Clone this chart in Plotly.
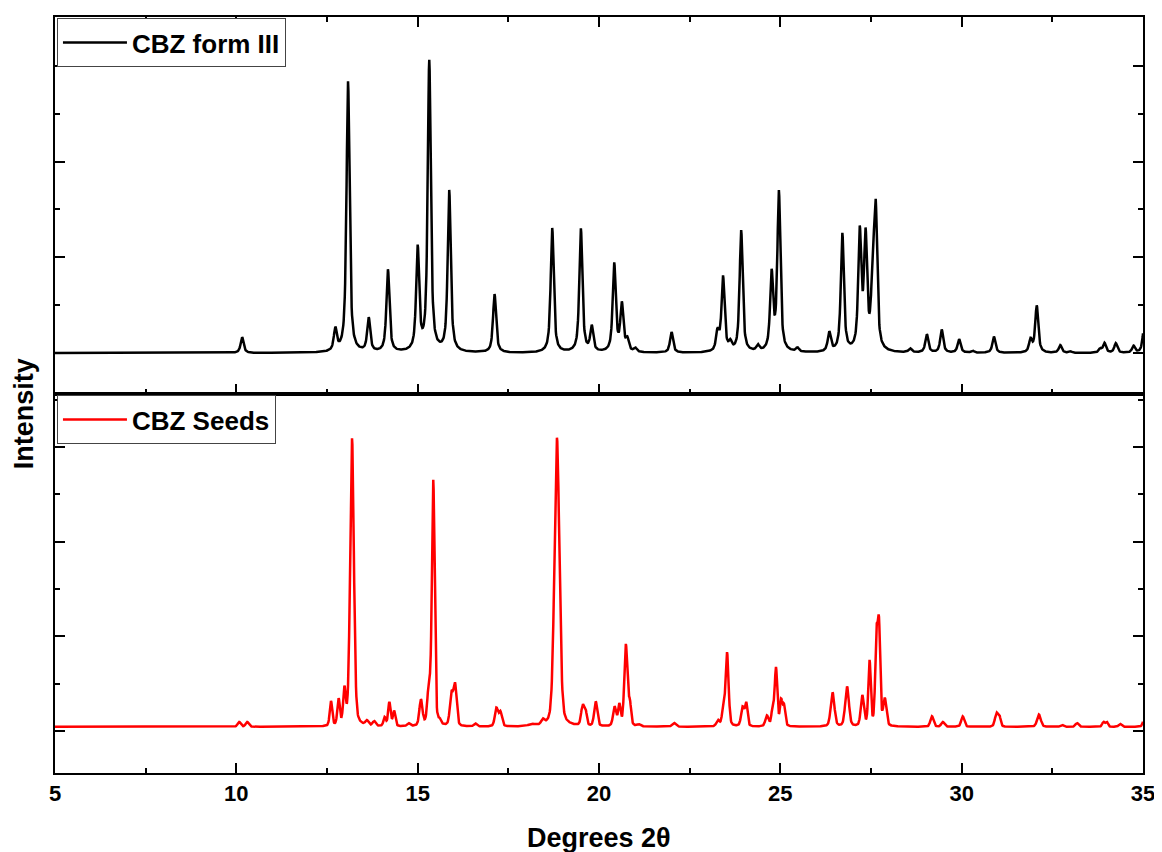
import numpy as np
import plotly.graph_objects as go

# ---------------- data ----------------
two_theta_range = [5, 35]
x_tick_values = [5, 10, 15, 20, 25, 30, 35]

# CBZ form III (calculated pattern): peak positions (deg 2θ) and intensities (a.u.)
form3_pos = [10.16, 12.73, 13.08, 13.65, 14.18, 15.00, 15.32, 15.87, 17.12,
             18.71, 19.50, 19.80, 20.42, 20.63, 20.78, 21.00, 22.00, 23.27,
             23.42, 23.62, 23.92, 24.38, 24.76, 24.96, 25.47, 26.35, 26.71,
             27.19, 27.35, 27.55, 27.63, 28.58, 29.04, 29.45, 29.93, 30.30,
             30.89, 31.90, 32.07, 32.72, 33.00, 33.82, 33.94, 34.25, 34.74,
             35.04]
form3_int = [165, 230, 2830, 350, 860, 1070, 3030, 1680, 610,
             1300, 1290, 260, 920, 490, 120, 40, 215, 200,
             780, 80, 1270, 60, 800, 1660, 40, 200, 1230,
             1220, 1160, 700, 1390, 40, 190, 240, 140, 20,
             170, 130, 490, 80, 15, 40, 100, 100, 70,
             330]
form3_fwhm = 0.10

# CBZ Seeds (measured pattern): peak positions, intensities and widths
seeds_pos = [10.08, 10.30, 12.61, 12.82, 12.98, 13.19, 13.60, 13.80, 14.09,
             14.22, 14.35, 14.75, 15.09, 15.31, 15.43, 15.61, 15.93, 16.03,
             16.59, 17.17, 17.28, 18.15, 18.45, 18.84, 19.55, 19.63, 19.91,
             20.43, 20.56, 20.74, 20.85, 21.10, 22.07, 23.28, 23.42, 23.53,
             23.96, 24.06, 24.63, 24.79, 24.88, 25.02, 25.10, 26.44, 26.84,
             27.26, 27.46, 27.65, 27.72, 27.88, 29.18, 29.48, 30.03, 30.96,
             31.04, 32.13, 32.77, 33.18, 33.91, 34.00, 34.37, 35.05]
seeds_int = [50, 50, 260, 270, 360, 3040, 50, 50, 90,
             250, 160, 30, 270, 380, 2580, 40, 330, 430,
             30, 190, 150, 20, 50, 3050, 210, 140, 260,
             200, 220, 860, 230, 20, 40, 60, 150, 780,
             200, 240, 110, 190, 610, 260, 210, 360, 420,
             320, 680, 880, 1010, 280, 110, 50, 110, 140,
             100, 130, 20, 40, 50, 50, 30, 110]
seeds_fwhm = [0.10, 0.10, 0.08, 0.08, 0.08, 0.12, 0.10, 0.10, 0.08,
              0.08, 0.08, 0.10, 0.10, 0.10, 0.09, 0.08, 0.10, 0.10,
              0.10, 0.10, 0.10, 0.20, 0.10, 0.16, 0.10, 0.08, 0.10,
              0.10, 0.08, 0.10, 0.08, 0.10, 0.12, 0.10, 0.08, 0.10,
              0.10, 0.08, 0.10, 0.08, 0.08, 0.08, 0.08, 0.12, 0.12,
              0.10, 0.08, 0.08, 0.08, 0.10, 0.10, 0.10, 0.10, 0.10,
              0.08, 0.12, 0.10, 0.10, 0.08, 0.08, 0.10, 0.10]
seeds_background = 45

series_names = ["CBZ form III", "CBZ Seeds"]


# ---------------- build the profiles ----------------
def pseudo_voigt(x, positions, intensities, widths, eta):
    y = np.zeros_like(x)
    for p, h, w in zip(positions, intensities, widths):
        d = (x - p) / w
        lor = 1.0 / (1.0 + 4.0 * d ** 2)
        gau = np.exp(-4.0 * np.log(2) * d ** 2)
        y += h * (eta * lor + (1.0 - eta) * gau)
    return y


x = np.linspace(two_theta_range[0], two_theta_range[1], 3001)
y_form3 = pseudo_voigt(x, form3_pos, form3_int, [form3_fwhm] * len(form3_pos), 0.75)
y_seeds = seeds_background + pseudo_voigt(x, seeds_pos, seeds_int, seeds_fwhm, 0.3)

# ---------------- figure ----------------
FONT = "Liberation Sans, Arial, sans-serif"
split = 0.5013
LEGEND_FONT = dict(family=FONT, size=26, color="black", weight="bold")
TITLE_FONT = dict(family=FONT, size=27, color="black", weight="bold")

fig = go.Figure()
fig.add_trace(go.Scatter(x=x, y=y_form3, mode="lines", name=series_names[0],
                         line=dict(color="black", width=2.5), showlegend=True,
                         xaxis="x2", yaxis="y2", legend="legend"))
fig.add_trace(go.Scatter(x=x, y=y_seeds, mode="lines", name=series_names[1],
                         line=dict(color="#ff0000", width=2.5), showlegend=True,
                         xaxis="x", yaxis="y", legend="legend2"))

common = dict(showline=True, linecolor="black", linewidth=2, ticks="inside",
              tickcolor="black", tickwidth=2, ticklen=10, showgrid=False,
              zeroline=False)
minor_x = dict(ticks="inside", ticklen=5, tickwidth=2, tickcolor="black", dtick=2.5)
minor_y = dict(ticks="inside", ticklen=5, tickwidth=2, tickcolor="black", dtick=500)

fig.update_layout(
    width=1154, height=844,
    margin=dict(l=47, r=14, t=7, b=79),
    showlegend=True,
    paper_bgcolor="white", plot_bgcolor="white",
    xaxis=dict(**common, range=two_theta_range, anchor="y", mirror=True,
               tickmode="array", tickvals=x_tick_values,
               ticktext=[str(v) for v in x_tick_values],
               minor=minor_x,
               tickfont=dict(family=FONT, size=22, color="black", weight="bold")),
    xaxis2=dict(**common, range=two_theta_range, anchor="y2", matches="x",
                mirror="ticks", tickmode="array", tickvals=x_tick_values,
                minor=minor_x, showticklabels=False),
    yaxis=dict(**common, domain=[0, split], range=[-442, 3558], mirror="ticks",
               tick0=0, dtick=1000, minor=minor_y, showticklabels=False),
    yaxis2=dict(**common, domain=[split, 1], range=[-427, 3510], mirror="ticks",
                tick0=0, dtick=1000, minor=minor_y, showticklabels=False),
    legend=dict(x=0.0018, y=0.9987, xanchor="left", yanchor="top",
                bgcolor="white", bordercolor="#444", borderwidth=1,
                itemwidth=64, font=LEGEND_FONT),
    legend2=dict(x=0.0018, y=split - 0.0015, xanchor="left", yanchor="top",
                 bgcolor="white", bordercolor="#444", borderwidth=1,
                 itemwidth=64, font=LEGEND_FONT),
    annotations=[
        dict(text="Degrees 2θ", xref="paper", yref="paper", x=0.5, y=-0.0858,
             xanchor="center", yanchor="middle", showarrow=False,
             font=TITLE_FONT),
        dict(text="Intensity", xref="paper", yref="paper", x=-0.029, y=0.475,
             xanchor="center", yanchor="middle", showarrow=False, textangle=-90,
             font=TITLE_FONT),
    ],
)

fig.write_html("out.html")
